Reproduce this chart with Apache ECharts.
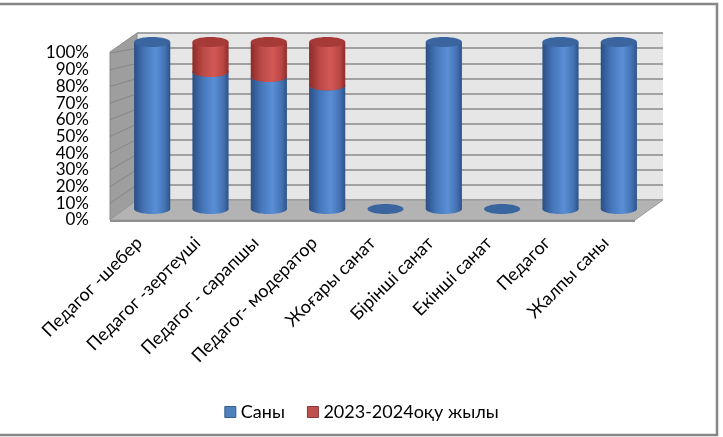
<!DOCTYPE html>
<html>
<head>
<meta charset="utf-8">
<script src="https://cdn.jsdelivr.net/npm/echarts@6/dist/echarts.min.js"></script>
<style>
  html, body { margin: 0; padding: 0; background: #fff; }
  #chart { width: 723px; height: 437px; }
</style>
</head>
<body>
<div id="chart"></div>
<script>
var categories = ['Педагог -шебер', 'Педагог -зертеуші', 'Педагог - сарапшы', 'Педагог- модератор',
    'Жоғары санат', 'Бірінші санат', 'Екінші санат', 'Педагог', 'Жалпы саны'];
var sany = [100, 82, 79, 74, 0, 100, 0, 100, 100];          // Саны, %
var year2324 = [0, 18, 21, 26, 0, 0, 0, 0, 0];              // 2023-2024оқу жылы, %
var yTicks = [0, 10, 20, 30, 40, 50, 60, 70, 80, 90, 100];

// коробка 3D: передний край, середина (цилиндры), задняя стенка
var front = { left: 110, right: 635, top: 53, bottom: 220 };
var mid = { left: 123, right: 648, top: 42, bottom: 209 };
var back = { left: 137, right: 663, top: 33, bottom: 200 };   // top = 110%

var W = 723, H = 437;
var font = 'Lato, "Open Sans", sans-serif';

function backY(v) {
    return back.bottom - (back.bottom - back.top) * v / 110;
}
function frontY(v) {
    return front.bottom - (front.bottom - front.top) * v / 100;
}

function cylinder(base, grad, topColor, drawEmpty) {
    return function(params, api) {
        var i = api.value(0);
        var v = api.value(1);
        var b = base ? base[i] : 0;
        var p0 = api.coord([i, b]);
        var p1 = api.coord([i, b + v]);
        var w = api.size([1, 0])[0] * 0.62;
        var rx = w / 2, ry = 5;
        if (v <= 0) {
            if (!drawEmpty) return null;
            return {
                type: 'ellipse',
                shape: { cx: p0[0], cy: p0[1], rx: rx, ry: ry },
                style: { fill: topColor }
            };
        }
        return {
            type: 'group',
            children: [
                { type: 'ellipse', shape: { cx: p0[0], cy: p0[1], rx: rx, ry: ry },
                  style: { fill: grad() } },
                { type: 'rect', shape: { x: p0[0] - rx, y: p1[1], width: w, height: p0[1] - p1[1] },
                  style: { fill: grad() } },
                { type: 'ellipse', shape: { cx: p0[0], cy: p1[1], rx: rx, ry: ry },
                  style: { fill: topColor } }
            ]
        };
    };
}

function blueGrad() {
    return new echarts.graphic.LinearGradient(0, 0, 1, 0, [
        { offset: 0, color: '#2b4f84' },
        { offset: 0.3, color: '#4677bb' },
        { offset: 0.6, color: '#5a8fd6' },
        { offset: 0.85, color: '#4473b4' },
        { offset: 1, color: '#2d5389' }
    ]);
}
function redGrad() {
    return new echarts.graphic.LinearGradient(0, 0, 1, 0, [
        { offset: 0, color: '#8e2b28' },
        { offset: 0.3, color: '#bb4a47' },
        { offset: 0.6, color: '#d25855' },
        { offset: 0.85, color: '#b94644' },
        { offset: 1, color: '#902c2a' }
    ]);
}

// стенки и пол
var graphics = [];
graphics.push({
    type: 'polygon', z: 1,
    shape: { points: [[front.left, front.top - 1], [back.left, back.top], [back.left, back.bottom], [front.left, front.bottom]] },
    style: { fill: '#9e9e9e', stroke: '#8a8a8a', lineWidth: 1 }
});
yTicks.forEach(function(t) {
    if (t === 0) return;
    graphics.push({
        type: 'line', z: 1,
        shape: { x1: front.left, y1: frontY(t), x2: back.left, y2: backY(t) },
        style: { stroke: '#858585', lineWidth: 1 }
    });
});
graphics.push({
    type: 'polygon', z: 1,
    shape: { points: [[front.left, front.bottom], [front.right, front.bottom], [back.right, back.bottom], [back.left, back.bottom]] },
    style: { fill: '#b3b3b3', stroke: '#9a9a9a', lineWidth: 1 }
});
graphics.push({
    type: 'line', z: 1,
    shape: { x1: front.left, y1: front.bottom + 1, x2: front.right, y2: front.bottom + 1 },
    style: { stroke: '#8f8f8f', lineWidth: 2 }
});
graphics.push({
    type: 'rect', z: 10,
    shape: { x: -5, y: 4, width: 722, height: 431 },
    style: { fill: null, stroke: '#878787', lineWidth: 2.5 }
});

var option = {
    backgroundColor: '#fff',
    animation: false,
    textStyle: { fontFamily: font },
    graphic: { elements: graphics },
    legend: {
        top: 398,
        left: 'center',
        itemWidth: 11,
        itemHeight: 11,
        itemGap: 22,
        textStyle: { fontFamily: font, fontSize: 18, color: '#000' },
        data: [
            { name: 'Саны', icon: 'rect', itemStyle: { color: '#4f81bd', borderColor: '#385d8a', borderWidth: 1 } },
            { name: '2023-2024оқу жылы', icon: 'rect', itemStyle: { color: '#c0504d', borderColor: '#8c3836', borderWidth: 1 } }
        ]
    },
    grid: [
        // задняя стенка
        { left: back.left, right: W - back.right, top: back.top, bottom: H - back.bottom,
          show: true, backgroundColor: '#e6e6e6', borderWidth: 0 },
        // цилиндры
        { left: mid.left, right: W - mid.right, top: mid.top, bottom: H - mid.bottom },
        // подписи по переднему краю
        { left: front.left, right: W - front.right, top: front.top, bottom: H - front.bottom }
    ],
    xAxis: [
        { gridIndex: 0, type: 'category', data: categories, show: false },
        { gridIndex: 1, type: 'category', data: categories, show: false },
        { gridIndex: 2, type: 'category', data: categories,
          axisLine: { show: false }, axisTick: { show: false },
          axisLabel: { rotate: 45, margin: 20, interval: 0, fontSize: 18, color: '#000', fontFamily: font } }
    ],
    yAxis: [
        { gridIndex: 0, type: 'value', min: 0, max: 110, interval: 10,
          axisLine: { show: false }, axisTick: { show: false }, axisLabel: { show: false },
          splitLine: { show: true, lineStyle: { color: '#8a8a8a', width: 1.5 } } },
        { gridIndex: 1, type: 'value', min: 0, max: 100, show: false, splitLine: { show: false } },
        // шкала процентов на переднем крае
        { gridIndex: 2, type: 'category', boundaryGap: false,
          data: yTicks.map(function(t) { return t + '%'; }),
          axisLine: { show: false }, axisTick: { show: false }, splitLine: { show: false },
          axisLabel: { interval: 0, margin: 21, fontSize: 17, color: '#000', fontFamily: font } }
    ],
    series: [
        {
            name: 'Саны', type: 'custom', xAxisIndex: 1, yAxisIndex: 1, z: 5,
            itemStyle: { color: '#4f81bd' },
            renderItem: cylinder(null, blueGrad, '#3b659f', true),
            data: sany.map(function(v, i) { return [i, v]; })
        },
        {
            name: '2023-2024оқу жылы', type: 'custom', xAxisIndex: 1, yAxisIndex: 1, z: 6,
            itemStyle: { color: '#c0504d' },
            renderItem: cylinder(sany, redGrad, '#a53a37', false),
            data: year2324.map(function(v, i) { return [i, v]; })
        }
    ]
};

echarts.init(document.getElementById('chart')).setOption(option);
</script>
</body>
</html>
